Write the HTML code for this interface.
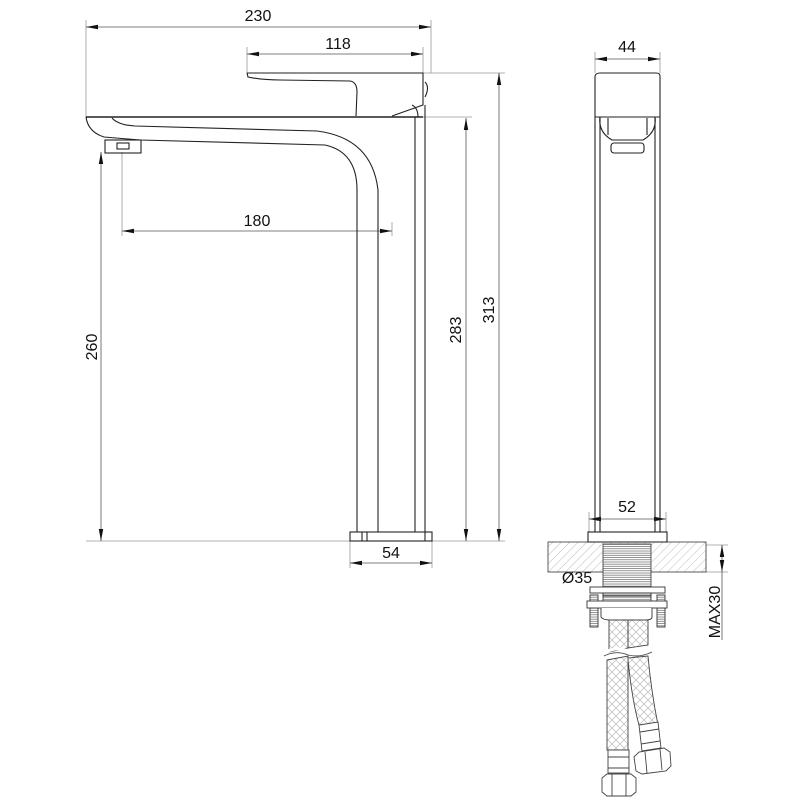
<!DOCTYPE html>
<html><head><style>html,body{margin:0;padding:0;background:#fff}svg{display:block}text{font-family:"Liberation Sans",sans-serif;font-size:16px;fill:#111}</style></head>
<body>
<svg width="800" height="800" viewBox="0 0 800 800" xmlns="http://www.w3.org/2000/svg">
<defs>
<marker id="a" markerWidth="12" markerHeight="6" refX="12" refY="3" orient="auto-start-reverse" markerUnits="userSpaceOnUse"><path d="M0,0.8 L12,3 L0,5.2z" fill="#111"/></marker>
<pattern id="h" width="6" height="6" patternUnits="userSpaceOnUse" patternTransform="rotate(45)"><line x1="0" y1="0" x2="0" y2="6" stroke="#aaa" stroke-width="0.8"/></pattern>
<pattern id="br" width="8" height="8" patternUnits="userSpaceOnUse"><path d="M0,4 L4,0 M4,8 L8,4 M0,4 L4,8 M4,0 L8,4" stroke="#bbb" stroke-width="0.7" fill="none"/></pattern>
<pattern id="th" width="4" height="2.2" patternUnits="userSpaceOnUse"><line x1="0" y1="1" x2="4" y2="1" stroke="#666" stroke-width="0.7"/></pattern>
</defs>
<g stroke="#999" stroke-width="0.8" fill="none">
<line x1="86" y1="20" x2="86" y2="117"/><line x1="431" y1="20" x2="431" y2="73"/>
<line x1="247" y1="47" x2="247" y2="73"/><line x1="423" y1="47" x2="423" y2="73"/>
<line x1="423" y1="73" x2="505" y2="73"/><line x1="423" y1="117" x2="472" y2="117"/>
<line x1="86" y1="541" x2="505" y2="541"/>
<line x1="122" y1="152" x2="122" y2="236"/><line x1="392" y1="222" x2="392" y2="236"/>
<line x1="350" y1="541" x2="350" y2="568"/><line x1="432" y1="541" x2="432" y2="568"/>
<line x1="595" y1="52" x2="595" y2="73"/><line x1="660" y1="52" x2="660" y2="73"/>
<line x1="589" y1="512" x2="589" y2="532"/><line x1="666" y1="512" x2="666" y2="532"/>
<line x1="706" y1="545" x2="728" y2="545"/><line x1="706" y1="572" x2="728" y2="572"/>
</g>
<g stroke="#555" stroke-width="0.8" fill="none" marker-start="url(#a)" marker-end="url(#a)">
<line x1="86" y1="27" x2="431" y2="27"/>
<line x1="247" y1="54" x2="423" y2="54"/>
<line x1="122" y1="231" x2="392" y2="231"/>
<line x1="350" y1="563" x2="432" y2="563"/>
<line x1="101" y1="152" x2="101" y2="541"/>
<line x1="466" y1="118" x2="466" y2="541"/>
<line x1="499" y1="73" x2="499" y2="541"/>
<line x1="595" y1="59" x2="660" y2="59"/>
<line x1="589" y1="519" x2="666" y2="519"/>
<line x1="722" y1="545" x2="722" y2="572"/>
</g>
<line x1="722" y1="572" x2="722" y2="640" stroke="#555" stroke-width="0.8"/>
<text x="258" y="21" text-anchor="middle">230</text>
<text x="338" y="49" text-anchor="middle">118</text>
<text x="257" y="226" text-anchor="middle">180</text>
<text x="391" y="558" text-anchor="middle">54</text>
<text transform="translate(97,347) rotate(-90)" text-anchor="middle">260</text>
<text transform="translate(461,330) rotate(-90)" text-anchor="middle">283</text>
<text transform="translate(494,310) rotate(-90)" text-anchor="middle">313</text>
<text x="627" y="52" text-anchor="middle">44</text>
<text x="627" y="512" text-anchor="middle">52</text>
<text x="577" y="583" text-anchor="middle">Ø35</text>
<text transform="translate(720,612) rotate(-90)" text-anchor="middle">MAX30</text>
<g stroke="#222" stroke-width="1.1" fill="none">
<line x1="86" y1="117" x2="423" y2="117" stroke-width="1.6"/>
<path d="M86,117 Q88,132 104,137 L140,140 L325,145 Q357,152 357,190 L357,532"/>
<path d="M112,118 Q118,125 135,126 L317,131 Q372,138 378,190 L378,532"/>
<line x1="415" y1="117" x2="415" y2="532"/><line x1="425" y1="105" x2="425" y2="532"/>
<rect x="105" y="140" width="36" height="13"/><rect x="117" y="143" width="12" height="6"/>
<path d="M247,73 L423,73 L423,105 L392,116 M247,73 L248,77 Q262,80 280,80 L350,81 Q357,82 357,92 L356,116"/>
<path d="M412,105 Q418,108 418,117"/>
<path d="M425,82 Q430,87 425,97"/>
<rect x="350" y="532" width="82" height="9"/>
<line x1="362" y1="532" x2="362" y2="541"/><line x1="367" y1="532" x2="367" y2="541"/><line x1="425" y1="532" x2="425" y2="541"/>
</g>
<g stroke="#222" stroke-width="1.1" fill="none">
<path d="M595,76 L595,532 M660,76 L660,532"/>
<path d="M595,76 Q596,73 600,73 L656,73 Q660,73 660,76"/>
<line x1="595" y1="117" x2="660" y2="117"/>
<line x1="600" y1="117" x2="600" y2="532"/><line x1="655" y1="117" x2="655" y2="532"/>
<path d="M600,117 Q598,132 612,140 L643,140 Q657,132 655,117"/>
<path d="M608,118 L608,135 M647,118 L647,135"/>
<rect x="611" y="143" width="33" height="10" rx="3"/>
<rect x="588" y="532" width="79" height="10"/>
</g>
<rect x="548" y="542" width="158" height="30" fill="url(#h)" stroke="#333" stroke-width="0.8"/>
<rect x="603" y="544" width="48" height="52" fill="#fff"/>
<rect x="603" y="544" width="48" height="52" fill="url(#th)" stroke="#333" stroke-width="0.8"/>
<g stroke="#333" stroke-width="0.9" fill="#fff">
<rect x="590" y="587" width="75" height="6"/>
<rect x="603" y="593" width="48" height="8" fill="url(#th)"/>
<rect x="590" y="595" width="8" height="32" fill="url(#th)"/>
<rect x="657" y="595" width="8" height="32" fill="url(#th)"/>
<rect x="587" y="601" width="80" height="7"/>
<path d="M601,608 L601,617 Q603,620 610,620 L645,620 Q652,620 652,617 L652,608"/>
</g>
<g stroke="#444" stroke-width="0.9">
<path d="M609,620 L609,652 L628,648 L628,620z" fill="url(#br)"/>
<path d="M628,620 L628,648 L648,645 L648,620z" fill="url(#br)"/>
<path d="M607,660 L628,656 L628,660 Q632,700 639,725 L658,725 Q651,690 648,656 L628,658 L628,750 L607,750z" fill="url(#br)"/>
<path d="M604,656 Q616,650 628,655 Q640,658 652,652" fill="none"/>
<path d="M604,653 Q616,646 628,651 Q640,654 652,648" fill="none" stroke="#fff" stroke-width="3"/>
<rect x="608" y="750" width="21" height="23" fill="#fff"/>
<line x1="608" y1="757" x2="629" y2="757"/><line x1="608" y1="768" x2="629" y2="768"/>
<path d="M602,778 L607,774 L631,774 L636,778 L636,792 L631,796 L607,796 L602,792z" fill="#fff"/>
<line x1="612" y1="774" x2="612" y2="796"/><line x1="626" y1="774" x2="626" y2="796"/>
<path d="M639,725 L658,722 L661,748 L642,751z" fill="#fff"/>
<line x1="640" y1="732" x2="659" y2="729"/><line x1="641" y1="744" x2="660" y2="741"/>
<path d="M634,757 L639,752 L664,748 L670,752 L671,766 L666,771 L642,774 L636,771z" fill="#fff"/>
<line x1="645" y1="752" x2="647" y2="773"/><line x1="660" y1="749" x2="662" y2="770"/>
</g>
</svg>
</body></html>
